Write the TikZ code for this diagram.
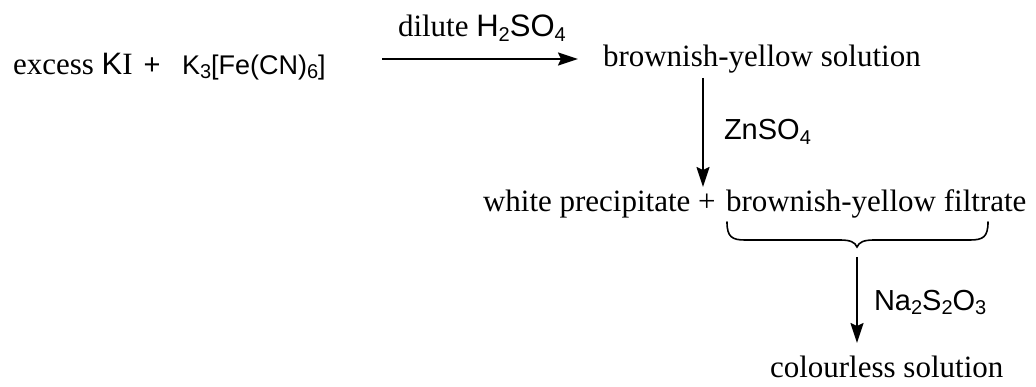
\documentclass[tikz,border=0pt]{standalone}
\usepackage{fontspec}
\setmainfont{Liberation Serif}
\setsansfont{Liberation Sans}
\usetikzlibrary{arrows.meta}
\newcommand\chemsub[1]{\raisebox{-0.28ex}{\fontsize{20}{20}\selectfont #1}}
\tikzset{
  lbl/.style={inner sep=0pt, outer sep=0pt, font=\fontsize{31}{36}\selectfont},
  slbl/.style={inner sep=0pt, outer sep=0pt, font=\fontsize{29}{34}\sffamily\selectfont},
  rarrow/.style={line width=1.8pt, -{Stealth[length=20pt,width=13pt,inset=3pt]}},
  bracestyle/.style={line width=1.6pt, line cap=round}
}
\begin{document}
\begin{tikzpicture}[x=1pt,y=-1pt]
\useasboundingbox (0,0) rectangle (1036,387);
% reactants
\node[lbl, anchor=base west] (r1) at (13,75) {excess \textsf{K}I};
\node[slbl, anchor=base] (plus) at (152,75) {+};
\node[slbl, anchor=base west] (r2) at (182,75) {\fontsize{27}{32}\selectfont K\chemsub{3}[Fe(CN)\chemsub{6}]};
% condition 1
\node[lbl, anchor=base west] (dil) at (398,37) {dilute \textsf{H\chemsub{2}SO\chemsub{4}}};
\coordinate (a1s) at (382,59);
\coordinate (a1e) at (578,59);
\draw[rarrow] (a1s) -- (a1e);
% product 1
\node[lbl, anchor=base west] (bys) at (603,67) {brownish-yellow solution};
% arrow 2
\coordinate (a2s) at (703,78);
\coordinate (a2e) at (703,187);
\draw[rarrow] (a2s) -- (a2e);
\node[slbl, anchor=base west] (zn) at (724,140) {ZnSO\chemsub{4}};
% products 2
\node[lbl, anchor=base west] (wp) at (483,212) {white precipitate +};
\node[lbl, anchor=base west] (byf) at (726,212) {brownish-yellow filtrate};
% brace
\coordinate (btip) at (857,247);
\draw[bracestyle] (727,222) .. controls (727,237) and (732,240) .. (745,240) -- (840,240)
  .. controls (850,240) and (855,242) .. (btip)
  .. controls (859,242) and (864,240) .. (874,240) -- (970,240)
  .. controls (983,240) and (988,237) .. (988,222);
% arrow 3
\coordinate (a3s) at (857,257);
\coordinate (a3e) at (857,343);
\draw[rarrow] (a3s) -- (a3e);
\node[slbl, anchor=base west] (na) at (874,310) {Na\chemsub{2}S\chemsub{2}O\chemsub{3}};
% product 3
\node[lbl, anchor=base west] (cs) at (770,377) {colourless solution};
\end{tikzpicture}
\end{document}
